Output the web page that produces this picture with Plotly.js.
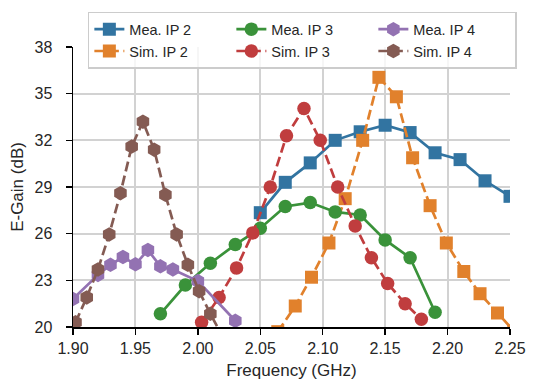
<!DOCTYPE html>
<html>
<head>
<meta charset="utf-8">
<script src="https://cdn.plot.ly/plotly-3.0.1.min.js"></script>
<style>html,body{margin:0;padding:0;background:#fff;}#chart{width:534px;height:380px;}</style>
</head>
<body>
<div id="chart"></div>
<script>
// ---- data ----
const meaIP2_f = [2.05, 2.07, 2.09, 2.11, 2.13, 2.15, 2.17, 2.19, 2.21, 2.23, 2.25];
const meaIP2_g = [27.35, 29.3, 30.55, 32.0, 32.55, 32.97, 32.5, 31.2, 30.76, 29.4, 28.4];

const simIP2_f = [2.064, 2.078, 2.091, 2.105, 2.118, 2.132, 2.145, 2.159, 2.172, 2.186, 2.199, 2.213, 2.226, 2.240, 2.253];
const simIP2_g = [19.7, 21.35, 23.2, 25.4, 28.25, 32.0, 36.05, 34.8, 30.88, 27.8, 25.4, 23.57, 22.14, 20.9, 19.75];

const meaIP3_f = [1.97, 1.99, 2.01, 2.03, 2.05, 2.07, 2.09, 2.11, 2.13, 2.15, 2.17, 2.19];
const meaIP3_g = [20.85, 22.7, 24.1, 25.3, 26.35, 27.75, 28.0, 27.4, 27.2, 25.6, 24.45, 20.95];

const simIP3_f = [2.003, 2.017, 2.031, 2.044, 2.058, 2.071, 2.085, 2.098, 2.112, 2.126, 2.139, 2.152, 2.166, 2.179];
const simIP3_g = [20.3, 21.9, 23.8, 26.05, 29.0, 32.3, 34.05, 32.0, 29.0, 26.5, 24.45, 22.8, 21.5, 20.5];

const meaIP4_f = [1.90, 1.92, 1.93, 1.94, 1.95, 1.96, 1.97, 1.98, 2.00, 2.03];
const meaIP4_g = [21.8, 23.35, 24.0, 24.5, 24.03, 24.95, 23.9, 23.7, 22.95, 20.4];

const simIP4_f = [1.902, 1.911, 1.920, 1.929, 1.938, 1.947, 1.956, 1.965, 1.974, 1.983, 1.992, 2.001, 2.010, 2.019];
const simIP4_g = [20.3, 21.9, 23.7, 25.95, 28.6, 31.6, 33.2, 31.4, 28.5, 25.95, 24.0, 22.3, 20.85, 19.5];

const xTicks = [1.90, 1.95, 2.00, 2.05, 2.10, 2.15, 2.20, 2.25];
const xTickText = ['1.90', '1.95', '2.00', '2.05', '2.10', '2.15', '2.20', '2.25'];
const yTicks = [20, 23, 26, 29, 32, 35, 38];
const yTickText = ['20', '23', '26', '29', '32', '35', '38'];

const seriesNames = ['Mea. IP 2', 'Sim. IP 2', 'Mea. IP 3', 'Sim. IP 3', 'Mea. IP 4', 'Sim. IP 4'];

// ---- styling ----
const FONT = 'Liberation Sans, Arial, Helvetica, sans-serif';
const TXT = '#262626';
const C = {blue: '#3274a1', orange: '#e1812c', green: '#3a923a', red: '#c03d3e', purple: '#9372b2', brown: '#845b53'};
const LW = 2.7;
const DASH = '10px,4.5px';

function tr(name, x, y, color, symbol, size, dash, rank) {
  return {
    type: 'scatter', mode: 'lines+markers', name: name, x: x, y: y,
    line: {color: color, width: LW, dash: dash},
    marker: {color: color, symbol: symbol, size: size, line: {width: 0}},
    legendrank: rank, cliponaxis: true
  };
}

const data = [
  tr(seriesNames[0], meaIP2_f, meaIP2_g, C.blue, 'square', 13, 'solid', 1),
  tr(seriesNames[1], simIP2_f, simIP2_g, C.orange, 'square', 13, DASH, 4),
  tr(seriesNames[2], meaIP3_f, meaIP3_g, C.green, 'circle', 13.5, 'solid', 2),
  tr(seriesNames[3], simIP3_f, simIP3_g, C.red, 'circle', 13.5, DASH, 5),
  tr(seriesNames[4], meaIP4_f, meaIP4_g, C.purple, 'hexagon', 14.5, 'solid', 3),
  tr(seriesNames[5], simIP4_f, simIP4_g, C.brown, 'hexagon', 14.5, DASH, 6)
];

const axisCommon = {
  showline: true, linecolor: '#000', linewidth: 1.5, mirror: false,
  ticks: 'outside', ticklen: 6, tickwidth: 1.5, tickcolor: '#000',
  showgrid: true, gridcolor: '#d2d2d2', gridwidth: 2, zeroline: false,
  tickfont: {family: FONT, size: 16, color: TXT},
  tickmode: 'array'
};

const layout = {
  width: 534, height: 380,
  margin: {l: 73, r: 24, t: 41, b: 53, pad: 0},
  paper_bgcolor: '#fff', plot_bgcolor: '#fff',
  font: {family: FONT, color: TXT},
  showlegend: true,
  xaxis: Object.assign({}, axisCommon, {
    range: [1.90, 2.25], tickvals: xTicks, ticktext: xTickText,
    title: {text: 'Frequency (GHz)', font: {family: FONT, size: 17, color: TXT}, standoff: 8}
  }),
  yaxis: Object.assign({}, axisCommon, {
    range: [20, 38], tickvals: yTicks, ticktext: yTickText, ticklabelstandoff: 10,
    title: {text: 'E-Gain (dB)', font: {family: FONT, size: 17, color: TXT}, standoff: 6}
  }),
  legend: {
    orientation: 'h', x: 0.034, xanchor: 'left', y: 1.126, yanchor: 'top',
    entrywidth: 97, entrywidthmode: 'pixels',
    bgcolor: 'rgba(255,255,255,0.8)', bordercolor: '#cccccc', borderwidth: 1.5,
    font: {family: FONT, size: 14.5, color: TXT}, traceorder: 'normal'
  }
};

Plotly.newPlot('chart', data, layout, {displayModeBar: false, staticPlot: true});
</script>
</body>
</html>
